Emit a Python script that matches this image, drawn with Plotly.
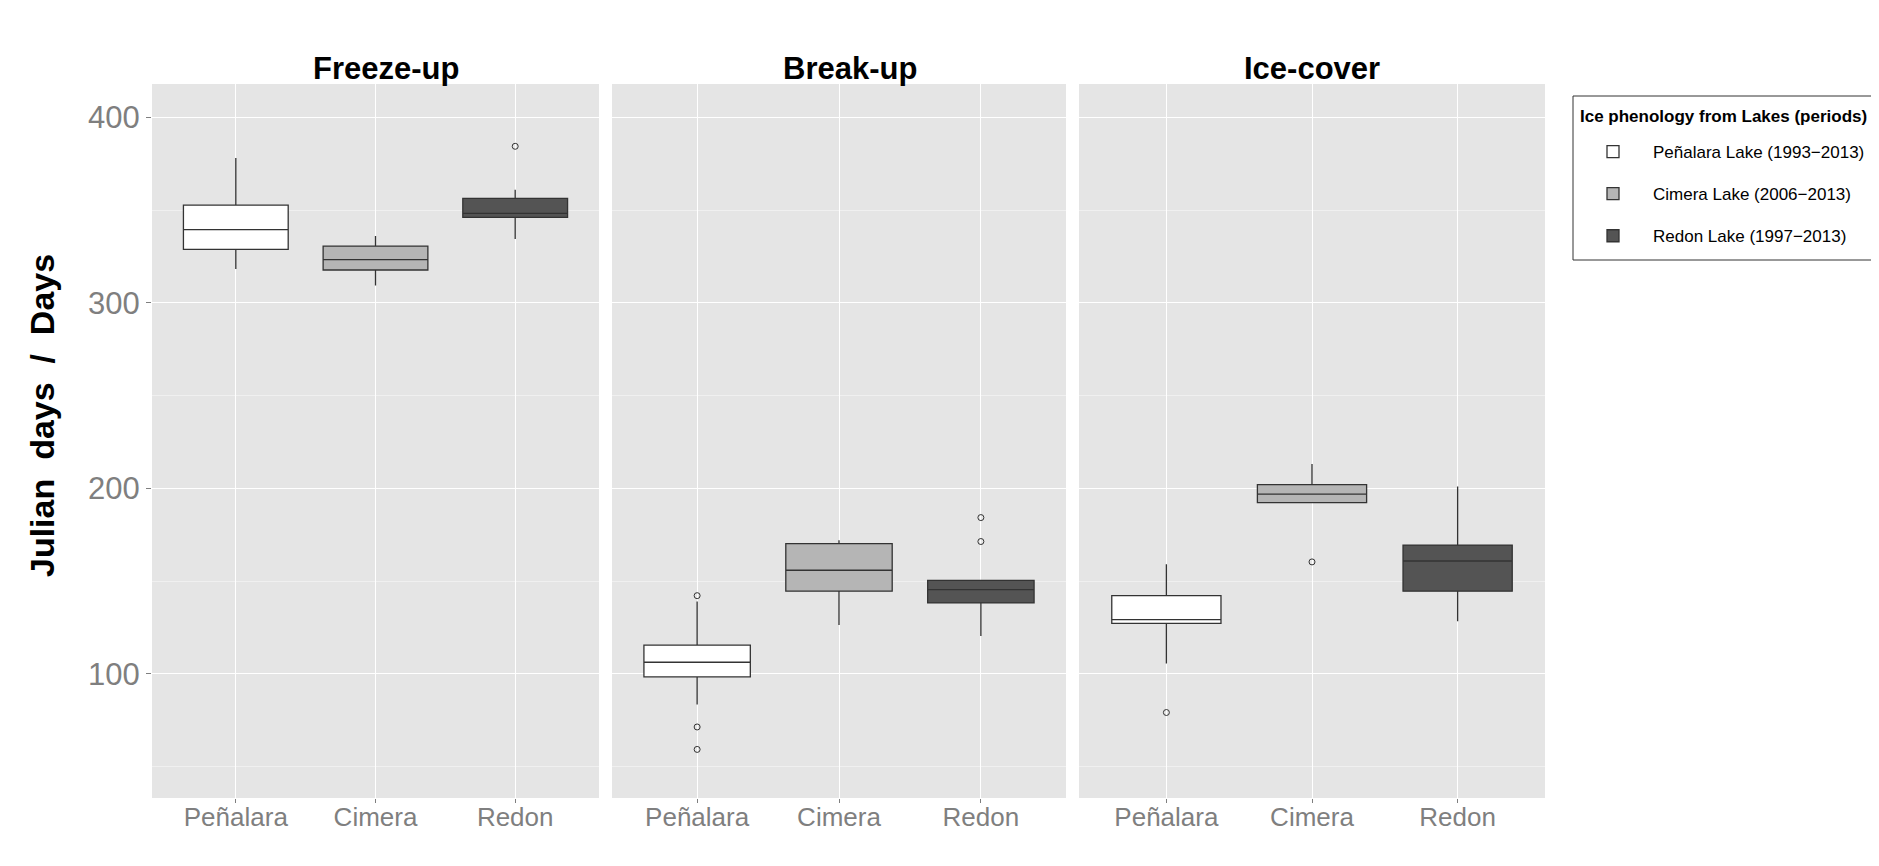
import plotly.graph_objects as go

# ---------------- data ----------------
lakes = ["Peñalara", "Cimera", "Redon"]
legend_names = ["Peñalara Lake (1993−2013)", "Cimera Lake (2006−2013)", "Redon Lake (1997−2013)"]
legend_title = "Ice phenology from Lakes (periods)"
panels = ["Freeze-up", "Break-up", "Ice-cover"]
y_ticks = [100, 200, 300, 400]

freeze_low = [318.2, 309.4, 334.4]
freeze_q1 = [328.8, 317.7, 346.1]
freeze_median = [339.5, 323.3, 348.2]
freeze_q3 = [352.7, 330.6, 356.3]
freeze_high = [378.1, 336.0, 361.0]
freeze_out = [[], [], [384.4]]

break_low = [83.4, 126.3, 120.4]
break_q1 = [98.3, 144.5, 138.2]
break_median = [106.2, 155.8, 145.4]
break_q3 = [115.4, 170.2, 150.4]
break_high = [139.0, 172.0, 150.4]
break_out = [[142.1, 71.3, 59.2], [], [184.2, 171.3]]

ice_low = [105.5, 192.3, 128.3]
ice_q1 = [127.2, 192.3, 144.5]
ice_median = [129.2, 196.9, 160.8]
ice_q3 = [142.1, 202.0, 169.4]
ice_high = [159.0, 213.1, 200.9]
ice_out = [[79.1], [160.3], []]

# ---------------- style ----------------
fills = ["#FFFFFF", "#B5B5B5", "#545454"]
line_col = "#333333"
FONT = "Liberation Sans, Arial, sans-serif"

stats = [
    (freeze_low, freeze_q1, freeze_median, freeze_q3, freeze_high, freeze_out),
    (break_low, break_q1, break_median, break_q3, break_high, break_out),
    (ice_low, ice_q1, ice_median, ice_q3, ice_high, ice_out),
]

fig = go.Figure()
for p, (lo, q1, med, q3, hi, outs) in enumerate(stats):
    xa = "x" if p == 0 else f"x{p+1}"
    ya = "y" if p == 0 else f"y{p+1}"
    for j, lake in enumerate(lakes):
        fig.add_trace(go.Box(
            x=[lake], q1=[q1[j]], median=[med[j]], q3=[q3[j]],
            lowerfence=[lo[j]], upperfence=[hi[j]],
            name=legend_names[j], legendgroup=f"g{j}", showlegend=(p == 0),
            fillcolor=fills[j], line=dict(color=line_col, width=1.3),
            width=0.75, whiskerwidth=0, boxpoints=False,
            xaxis=xa, yaxis=ya,
        ))
        if outs[j]:
            fig.add_trace(go.Scatter(
                x=[lake] * len(outs[j]), y=outs[j], mode="markers",
                marker=dict(symbol="circle-open", size=6, color=line_col,
                            line=dict(width=1, color=line_col)),
                showlegend=False, legendgroup=f"g{j}", hoverinfo="y",
                xaxis=xa, yaxis=ya,
            ))

# page has an 8px body margin: the figure's origin sits at (8, 8)
OFF = 8
W, H = 1879 - OFF, 866 - OFF
L = 152 - OFF
T = 84 - OFF
R = W - (1545 - OFF)
B = H - (798 - OFF)
pw = W - L - R
ph = H - T - B
px_domains = [(152, 599), (612, 1066), (1079, 1545)]
domains = [((a - 152) / pw, (b - 152) / pw) for a, b in px_domains]
title_px = [386, 849.5, 1312]


def px_x(x):
    return (x - 152) / pw


def px_y(y):
    return (798 - y) / ph


layout = dict(
    width=W, height=H,
    margin=dict(l=L, r=R, t=T, b=B, autoexpand=False),
    paper_bgcolor="white", plot_bgcolor="#E5E5E5",
    boxmode="overlay",
    font=dict(family=FONT, color="#000000"),
    legend=dict(
        x=px_x(1573), y=px_y(134), xanchor="left", yanchor="top",
        borderwidth=0, bgcolor="rgba(0,0,0,0)",
        font=dict(family=FONT, size=17, color="#000000"),
        tracegroupgap=17, itemwidth=70,
    ),
    shapes=[dict(
        type="rect", xref="paper", yref="paper",
        x0=px_x(1573), x1=px_x(1875), y0=px_y(260), y1=px_y(96),
        line=dict(color="#333333", width=1), fillcolor="white", layer="above",
    )],
)
for p in range(3):
    sfx = "" if p == 0 else str(p + 1)
    layout["xaxis" + sfx] = dict(
        domain=list(domains[p]), anchor="y" + sfx, type="category",
        categoryorder="array", categoryarray=lakes, range=[-0.6, 2.6],
        showgrid=True, gridcolor="white", gridwidth=1.2, zeroline=False,
        ticks="outside", ticklen=4, tickcolor="#7F7F7F",
        tickfont=dict(family=FONT, size=26, color="#7F7F7F"),
        ticklabelstandoff=-8,
        showline=False, fixedrange=True,
    )
    layout["yaxis" + sfx] = dict(
        domain=[0, 1], anchor="x" + sfx, range=[33, 418],
        tickmode="array", tickvals=y_ticks,
        showgrid=True, gridcolor="white", gridwidth=1.2, zeroline=False,
        minor=dict(showgrid=True, gridcolor="#F0F0F0", gridwidth=0.8,
                   tickmode="array", tickvals=[50, 150, 250, 350]),
        showticklabels=(p == 0), ticks="outside" if p == 0 else "",
        ticklen=5, tickcolor="#7F7F7F",
        tickfont=dict(family=FONT, size=31, color="#7F7F7F"),
        showline=False,
    )
    if p > 0:
        layout["yaxis" + sfx]["matches"] = "y"

annotations = []
for p, title in enumerate(panels):
    annotations.append(dict(
        text=f"<b>{title}</b>", x=px_x(title_px[p]), y=px_y(68),
        xref="paper", yref="paper", xanchor="center", yanchor="middle",
        showarrow=False, font=dict(family=FONT, size=31, color="#000000"),
    ))
annotations.append(dict(
    text="<b>Julian\u00a0\u00a0days\u00a0\u00a0/\u00a0\u00a0Days</b>",
    x=px_x(42), y=px_y(416), xref="paper", yref="paper",
    xanchor="center", yanchor="middle", textangle=-90, showarrow=False,
    font=dict(family=FONT, size=34, color="#000000"),
))
annotations.append(dict(
    text=f"<b>{legend_title}</b>",
    x=px_x(1723), y=px_y(117), xref="paper", yref="paper",
    xanchor="center", yanchor="middle", showarrow=False,
    font=dict(family=FONT, size=17, color="#000000"),
))
layout["annotations"] = annotations
fig.update_layout(**layout)

fig.write_html("out.html")
